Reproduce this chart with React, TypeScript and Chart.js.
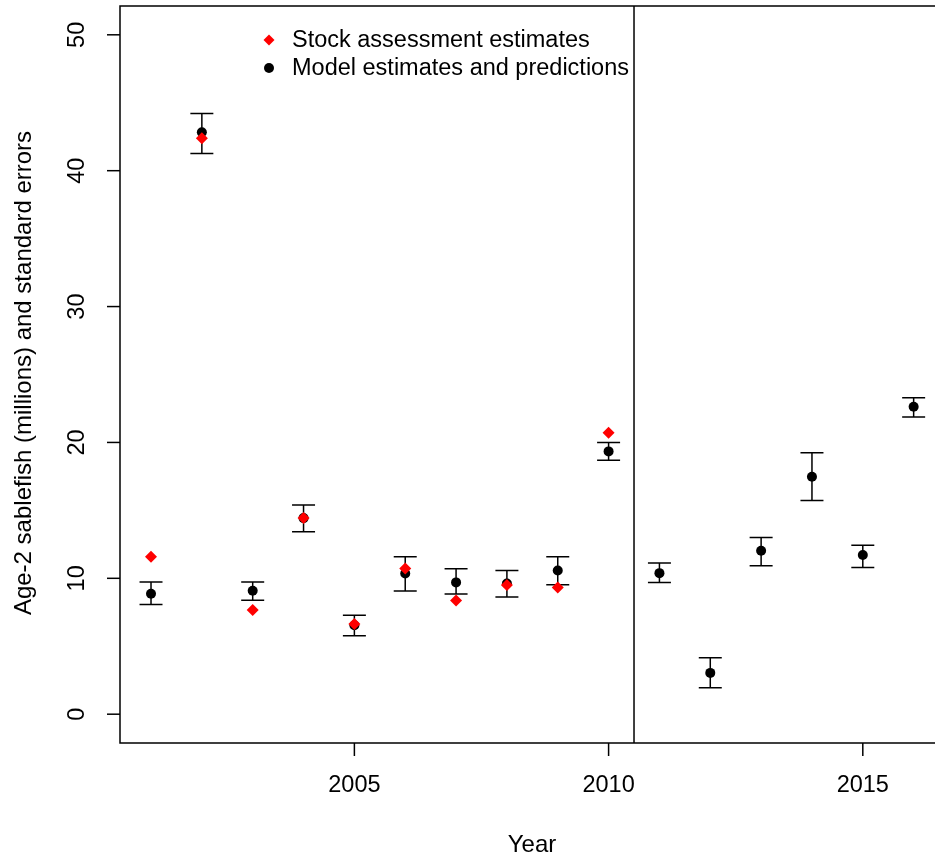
import React, { useEffect, useRef } from "react";
import { Chart, registerables } from "chart.js";

Chart.register(...registerables);

const years = [2001, 2002, 2003, 2004, 2005, 2006, 2007, 2008, 2009, 2010, 2011, 2012, 2013, 2014, 2015, 2016];
const modelEst = [8.86, 42.83, 9.08, 14.43, 6.55, 10.36, 9.7, 9.62, 10.58, 19.34, 10.38, 3.04, 12.03, 17.48, 11.71, 22.63];
const modelLower = [8.07, 41.26, 8.39, 13.42, 5.77, 9.06, 8.84, 8.62, 9.52, 18.68, 9.7, 1.94, 10.92, 15.73, 10.8, 21.87];
const modelUpper = [9.72, 44.2, 9.72, 15.39, 7.29, 11.59, 10.7, 10.58, 11.59, 20.0, 11.12, 4.15, 13.01, 19.25, 12.44, 23.29];
const stockYears = [2001, 2002, 2003, 2004, 2005, 2006, 2007, 2008, 2009, 2010];
const stockEst = [11.58, 42.39, 7.66, 14.43, 6.63, 10.73, 8.37, 9.5, 9.33, 20.72];
const xTicks = [2005, 2010, 2015];
const yTicks = [0, 10, 20, 30, 40, 50];
const dividerYear = 2010.5;
const legendLabels = ["Stock assessment estimates", "Model estimates and predictions"];
const xTitle = "Year";
const yTitle = "Age-2 sablefish (millions) and standard errors";

const FONT = '23.5px "Liberation Sans", Arial, sans-serif';
const TITLE_FONT = '24px "Liberation Sans", Arial, sans-serif';

const drawPlugin = {
  id: "rbase",
  beforeDatasetsDraw(chart: any) {
    const { ctx, scales } = chart;
    const xs = scales.x;
    const ys = scales.y;
    ctx.save();
    ctx.strokeStyle = "#000";
    ctx.lineWidth = 1.5;
    for (let i = 0; i < years.length; i++) {
      const px = xs.getPixelForValue(years[i]);
      const pl = ys.getPixelForValue(modelLower[i]);
      const pu = ys.getPixelForValue(modelUpper[i]);
      ctx.beginPath();
      ctx.moveTo(px, pl);
      ctx.lineTo(px, pu);
      ctx.moveTo(px - 11.5, pl);
      ctx.lineTo(px + 11.5, pl);
      ctx.moveTo(px - 11.5, pu);
      ctx.lineTo(px + 11.5, pu);
      ctx.stroke();
    }
    ctx.restore();
  },
  afterDatasetsDraw(chart: any) {
    const { ctx, chartArea, scales } = chart;
    const xs = scales.x;
    const ys = scales.y;
    ctx.save();
    ctx.strokeStyle = "#000";
    ctx.lineWidth = 1.5;
    ctx.beginPath();
    ctx.moveTo(chartArea.right + 5, chartArea.top);
    ctx.lineTo(chartArea.left, chartArea.top);
    ctx.lineTo(chartArea.left, chartArea.bottom);
    ctx.lineTo(chartArea.right + 5, chartArea.bottom);
    ctx.stroke();
    const dx = xs.getPixelForValue(dividerYear);
    ctx.beginPath();
    ctx.moveTo(dx, chartArea.top);
    ctx.lineTo(dx, chartArea.bottom);
    ctx.stroke();
    ctx.fillStyle = "#000";
    ctx.font = FONT;
    ctx.textAlign = "center";
    ctx.textBaseline = "middle";
    for (const t of xTicks) {
      const px = xs.getPixelForValue(t);
      ctx.beginPath();
      ctx.moveTo(px, chartArea.bottom);
      ctx.lineTo(px, chartArea.bottom + 13);
      ctx.stroke();
      ctx.fillText(String(t), px, 786);
    }
    ctx.font = TITLE_FONT;
    ctx.fillText(xTitle, (chartArea.left + 944) / 2, 845);
    ctx.font = FONT;
    for (const t of yTicks) {
      const py = ys.getPixelForValue(t);
      ctx.beginPath();
      ctx.moveTo(chartArea.left, py);
      ctx.lineTo(chartArea.left - 13, py);
      ctx.stroke();
      ctx.save();
      ctx.translate(78, py);
      ctx.rotate(-Math.PI / 2);
      ctx.fillText(String(t), 0, 0);
      ctx.restore();
    }
    ctx.save();
    ctx.font = TITLE_FONT;
    ctx.translate(24, 373);
    ctx.rotate(-Math.PI / 2);
    ctx.fillText(yTitle, 0, 0);
    ctx.restore();
    ctx.textAlign = "left";
    ctx.font = FONT;
    const lx = 269;
    const ly = [40, 68];
    ctx.fillStyle = "#ff0000";
    ctx.beginPath();
    ctx.moveTo(lx, ly[0] - 5.5);
    ctx.lineTo(lx + 5.5, ly[0]);
    ctx.lineTo(lx, ly[0] + 5.5);
    ctx.lineTo(lx - 5.5, ly[0]);
    ctx.closePath();
    ctx.fill();
    ctx.fillStyle = "#000";
    ctx.beginPath();
    ctx.arc(lx, ly[1], 5, 0, Math.PI * 2);
    ctx.fill();
    ctx.fillText(legendLabels[0], 292, ly[0] + 1);
    ctx.fillText(legendLabels[1], 292, ly[1] + 1);
    ctx.restore();
  },
};

export default function App() {
  const ref = useRef<HTMLCanvasElement | null>(null);
  useEffect(() => {
    document.body.style.margin = "0";
    const canvas = ref.current!;
    const chart = new Chart(canvas, {
      type: "scatter",
      data: {
        datasets: [
          {
            label: legendLabels[0],
            data: stockYears.map((y, i) => ({ x: y, y: stockEst[i] })),
            pointStyle: "rectRot",
            pointRadius: 6,
            backgroundColor: "#ff0000",
            borderColor: "#ff0000",
            borderWidth: 0,
          },
          {
            label: legendLabels[1],
            data: years.map((y, i) => ({ x: y, y: modelEst[i] })),
            pointStyle: "circle",
            pointRadius: 5,
            backgroundColor: "#000",
            borderColor: "#000",
            borderWidth: 0,
          },
        ],
      },
      options: {
        animation: false,
        responsive: false,
        devicePixelRatio: 1,
        layout: { autoPadding: false, padding: { left: 120, top: 6, right: 0, bottom: 113 } },
        plugins: { legend: { display: false }, tooltip: { enabled: false } },
        scales: {
          x: { type: "linear", min: 2000.39, max: 2016.42, display: false },
          y: { type: "linear", min: -2.12, max: 52.12, display: false },
        },
      },
      plugins: [drawPlugin],
    });
    return () => chart.destroy();
  }, []);
  return (
    <div style={{ width: 935, height: 856, background: "#fff" }}>
      <canvas ref={ref} width={935} height={856} style={{ display: "block" }} />
    </div>
  );
}
